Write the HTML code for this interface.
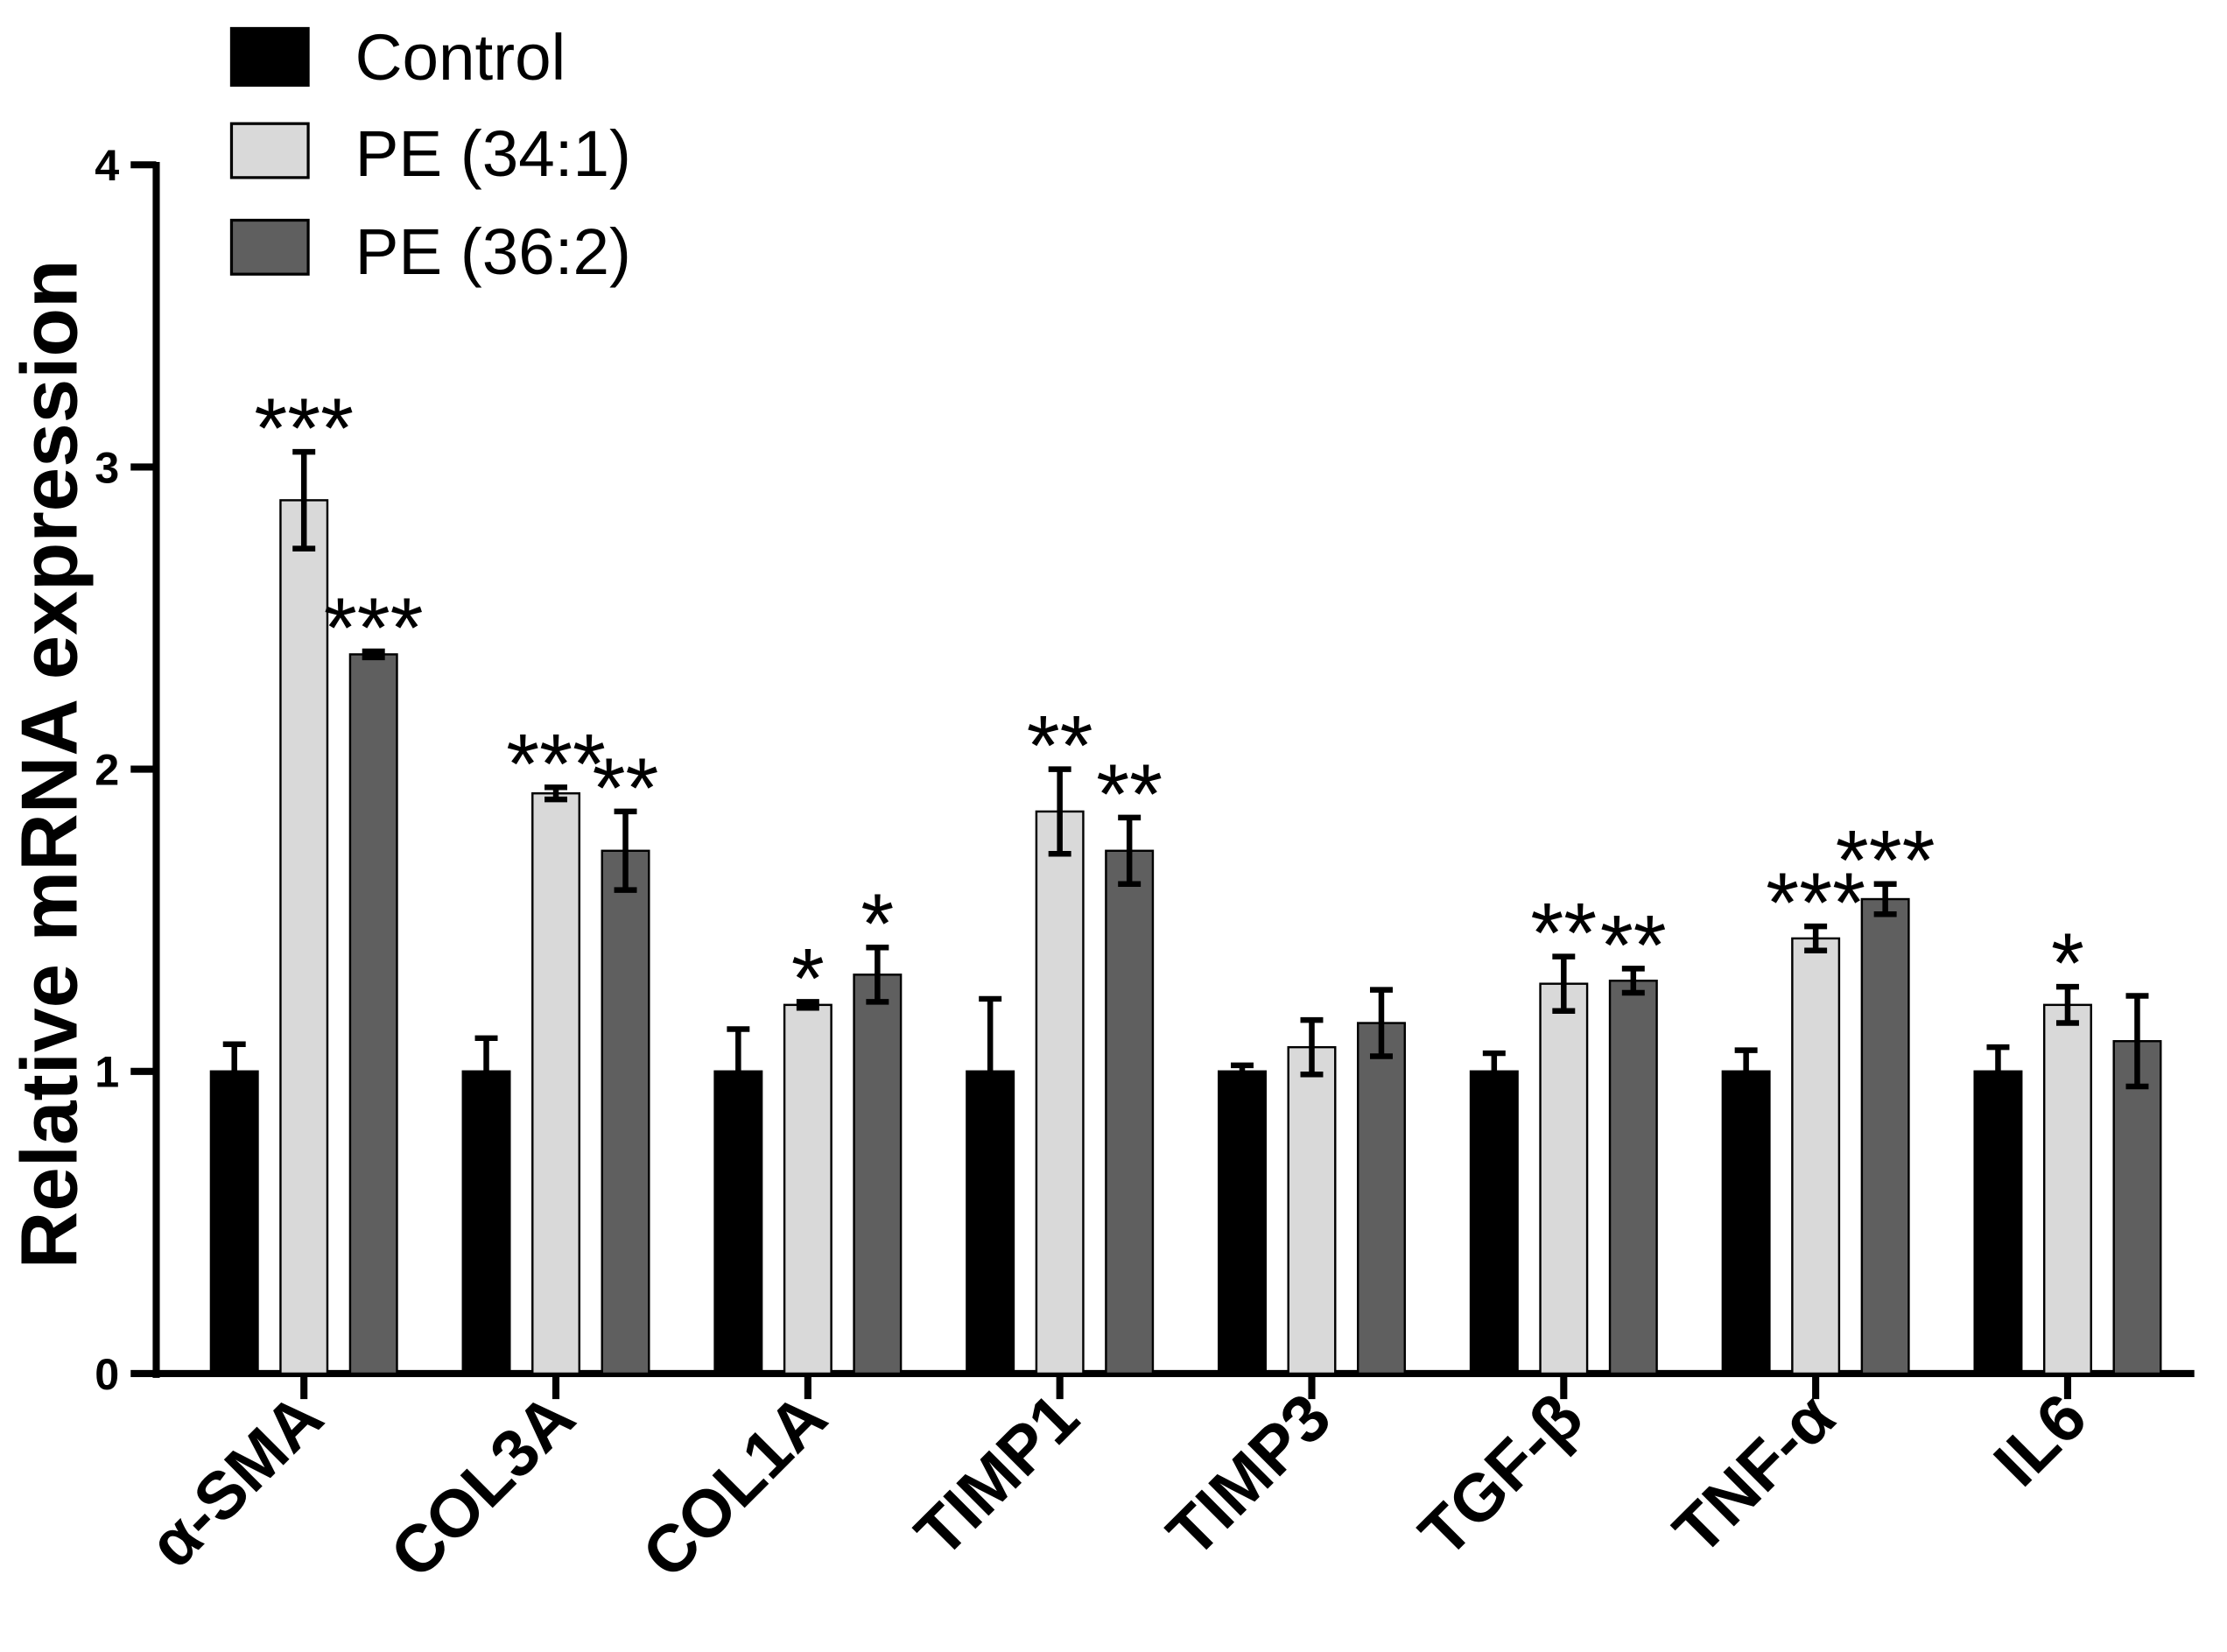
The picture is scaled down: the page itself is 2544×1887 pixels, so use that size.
<!DOCTYPE html>
<html><head><meta charset="utf-8"><style>html,body{margin:0;padding:0;background:#fff}svg{display:block}</style></head>
<body>
<svg id="chart" width="2544" height="1887" viewBox="0 0 1568 1163" xmlns="http://www.w3.org/2000/svg" font-family="Liberation Sans, DejaVu Sans, sans-serif">
<rect width="1568" height="1163" fill="#fff"/>
<g id="legend">
 <rect x="163" y="20" width="54" height="40" fill="#000" stroke="#000" stroke-width="2"/>
 <text x="250" y="56" font-size="46">Control</text>
 <rect x="163" y="87" width="54" height="38" fill="#d9d9d9" stroke="#000" stroke-width="2"/>
 <text x="250" y="124" font-size="46">PE (34:1)</text>
 <rect x="163" y="155" width="54" height="38" fill="#5f5f5f" stroke="#000" stroke-width="2"/>
 <text x="250" y="193" font-size="46">PE (36:2)</text>
</g>
<text transform="translate(54,538) rotate(-90)" text-anchor="middle" font-size="56" font-weight="bold">Relative mRNA expression</text>
<g id="axes"></g>
<g id="bars"></g>
</svg>
<script>
const categories = ["α-SMA","COL3A","COL1A","TIMP1","TIMP3","TGF-β","TNF-α","IL6"];
const controlValues = [1,1,1,1,1,1,1,1];
const controlErrors = [0.09,0.11,0.14,0.24,0.02,0.06,0.07,0.08];
const pe341Values = [2.89,1.92,1.22,1.86,1.08,1.29,1.44,1.22];
const pe341Errors = [0.16,0.02,0.01,0.14,0.09,0.09,0.04,0.06];
const pe362Values = [2.38,1.73,1.32,1.73,1.16,1.30,1.57,1.10];
const pe362Errors = [0.01,0.13,0.09,0.11,0.11,0.04,0.05,0.15];
const pe341Stars = ["***","***","*","**","","**","***","*"];
const pe362Stars = ["***","**","*","**","","**","***",""];
const yTicks = [0,1,2,3,4];

const NS="http://www.w3.org/2000/svg";
const x0=110, x1=1545, yBase=967, yTop=116;
const yScale=v=>yBase-(v/4)*(yBase-yTop);
const xCenter=i=>214+i*177.4;
const axes=document.getElementById('axes'), bars=document.getElementById('bars');
function mk(tag,attrs,parent){const e=document.createElementNS(NS,tag);for(const k in attrs)e.setAttribute(k,attrs[k]);parent.appendChild(e);return e;}

let yl=mk('line',{x1:x0,y1:yTop-2,x2:x0,y2:yBase+3,stroke:'#000','stroke-width':5},axes);


let xl=mk('line',{x1:x0-2,y1:yBase,x2:x1,y2:yBase,stroke:'#000','stroke-width':5},axes);


yTicks.forEach(t=>{
 const y=yScale(t);
 let tk=mk('line',{x1:x0-18,y1:y,x2:x0,y2:y,stroke:'#000','stroke-width':5},axes);
 
 
 let lb=mk('text',{x:x0-26,y:y+11,'text-anchor':'end','font-size':31,'font-weight':'bold'},axes);
 lb.textContent=t;
 
 
});
const series=[
 {vals:controlValues,errs:controlErrors,fill:'#000',off:-49,stars:null,name:'control'},
 {vals:pe341Values,errs:pe341Errors,fill:'#d9d9d9',off:0,stars:pe341Stars,name:'pe341'},
 {vals:pe362Values,errs:pe362Errors,fill:'#5f5f5f',off:49,stars:pe362Stars,name:'pe362'}];
categories.forEach((c,i)=>{
 const cx=xCenter(i);
 let tk=mk('line',{x1:cx,y1:yBase,x2:cx,y2:yBase+18,stroke:'#000','stroke-width':5},axes);
 
 
 let lb=mk('text',{transform:`translate(${cx+16},${yBase+34}) rotate(-45)`,'text-anchor':'end','font-size':47,'font-weight':'bold'},axes);
 lb.textContent=c;
 
 
 series.forEach(s=>{
  const v=s.vals[i],e=s.errs[i],bx=cx+s.off-16.5,y=yScale(v);
  let r=mk('rect',{x:bx,y:y,width:33,height:yBase-y,fill:s.fill,stroke:'#000','stroke-width':1.5},bars);
  
  
  const ex=cx+s.off,yt=yScale(v+e),yb=yScale(v-e);
  let eb=mk('path',{d:`M${ex},${yt}V${yb}M${ex-8},${yt}H${ex+8}M${ex-8},${yb}H${ex+8}`,stroke:'#000','stroke-width':4,fill:'none'},bars);
  
  
  if(s.stars&&s.stars[i]){
   let st=mk('text',{x:ex,y:yt+4,'text-anchor':'middle','font-size':60},bars);
   st.textContent=s.stars[i];
   
   
  }
 });
});
</script>
</body></html>
